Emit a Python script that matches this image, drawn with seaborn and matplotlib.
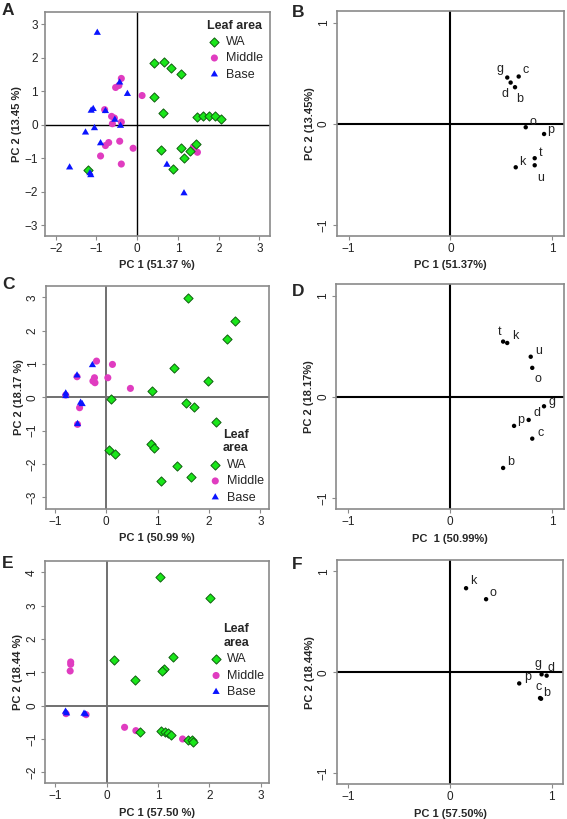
import numpy as np
import pandas as pd
import matplotlib
matplotlib.use("Agg")
import matplotlib.pyplot as plt
import seaborn as sns

# ---------------------------------------------------------------
# score data (PC1, PC2) per leaf area, one block per panel
# ---------------------------------------------------------------
a_wa_x = [0.41, 0.66, 0.82, 1.08, 0.41, 0.64, 1.46, 1.61, 1.76, 1.92, 2.07,
          0.58, 1.07, 1.15, 0.89, 1.29, 1.45, -1.20]
a_wa_y = [1.84, 1.88, 1.70, 1.50, 0.83, 0.35, 0.23, 0.25, 0.25, 0.25, 0.18,
          -0.75, -0.69, -1.00, -1.31, -0.77, -0.57, -1.34]
a_mid_x = [-0.39, -0.53, -0.45, 0.12, -0.80, -0.63, -0.56, -0.61, -0.39,
           -0.70, -0.78, -0.43, -0.10, -0.90, -0.39, 1.38, 1.48]
a_mid_y = [1.38, 1.11, 1.17, 0.87, 0.45, 0.25, 0.20, 0.03, 0.08,
           -0.53, -0.62, -0.49, -0.70, -0.93, -1.17, -0.66, -0.82]
a_base_x = [-0.98, -0.43, -0.24, -1.13, -1.08, -0.78, -0.55, -0.41, -1.05,
            -1.27, -0.90, -1.66, -1.16, -1.14, 0.73, 1.15]
a_base_y = [2.74, 1.26, 0.92, 0.42, 0.47, 0.41, 0.15, -0.03, -0.10,
            -0.23, -0.55, -1.27, -1.44, -1.50, -1.19, -2.04]

c_wa_x = [1.60, 2.50, 2.36, 1.32, 1.99, 0.90, 0.09, 1.56, 1.71, 2.14, 0.87,
          0.92, 0.06, 0.16, 1.37, 1.65, 1.07]
c_wa_y = [2.99, 2.29, 1.74, 0.87, 0.50, 0.19, -0.04, -0.16, -0.28, -0.75,
          -1.40, -1.51, -1.58, -1.71, -2.07, -2.40, -2.51]
c_mid_x = [-0.19, 0.12, -0.23, -0.26, -0.22, 0.03, 0.47, -0.57, -0.79, -0.52, -0.56]
c_mid_y = [1.09, 0.99, 0.59, 0.49, 0.44, 0.59, 0.27, 0.62, 0.07, -0.31, -0.81]
c_base_x = [-0.27, -0.57, -0.79, -0.79, -0.50, -0.47, -0.56]
c_base_y = [0.97, 0.66, 0.12, 0.04, -0.16, -0.20, -0.80]

e_wa_x = [1.04, 2.01, 0.15, 1.30, 1.11, 1.08, 0.56, 0.66, 1.06, 1.13, 1.19,
          1.25, 1.59, 1.66, 1.69]
e_wa_y = [3.87, 3.24, 1.37, 1.45, 1.09, 1.04, 0.78, -0.79, -0.76, -0.80,
          -0.83, -0.87, -1.04, -1.03, -1.10]
e_mid_x = [-0.70, -0.70, -0.71, -0.79, -0.40, 0.35, 0.57, 1.48]
e_mid_y = [1.31, 1.24, 1.04, -0.24, -0.27, -0.65, -0.75, -1.00]
e_base_x = [-0.80, -0.78, -0.44, -0.41]
e_base_y = [-0.18, -0.23, -0.24, -0.26]

# ---------------------------------------------------------------
# loading data (variable letters)
# ---------------------------------------------------------------
b_names = ['g', 'c', 'd', 'b', 'o', 'p', 't', 'u', 'k']
b_pc1 = [0.557, 0.669, 0.59, 0.633, 0.738, 0.918, 0.826, 0.826, 0.64]
b_pc2 = [0.46, 0.47, 0.41, 0.364, -0.033, -0.10, -0.34, -0.41, -0.43]

d_names = ['t', 'k', 'u', 'o', 'g', 'd', 'p', 'c', 'b']
d_pc1 = [0.52, 0.56, 0.79, 0.805, 0.92, 0.77, 0.627, 0.805, 0.52]
d_pc2 = [0.55, 0.536, 0.40, 0.29, -0.09, -0.225, -0.284, -0.41, -0.70]

f_names = ['k', 'o', 'g', 'd', 'p', 'c', 'b']
f_pc1 = [0.157, 0.354, 0.90, 0.95, 0.68, 0.885, 0.895]
f_pc2 = [0.834, 0.725, -0.02, -0.033, -0.11, -0.255, -0.262]

# label offsets in pixels (dx right, dy up)
b_offsets = [(-7, 9), (7, 7), (-6, -11), (5, -12), (7, 5), (7, 4), (6, 5), (6, -13), (7, 5)]
d_offsets = [(-4, 10), (8, 7), (8, 6), (6, -11), (8, 4), (8, 7), (7, 6), (8, 6), (8, 6)]
f_offsets = [(7, 7), (7, 6), (-4, 10), (4, 8), (8, 6), (-1, 11), (6, 6)]

groups = ['WA', 'Middle', 'Base']
colors = {'WA': '#19e619', 'Middle': '#e03cc0', 'Base': '#0a14ff'}
edges = {'WA': '#106010', 'Middle': 'none', 'Base': 'none'}
markers = {'WA': 'D', 'Middle': 'o', 'Base': (3, 1, 0)}
sizes = {'WA': 22, 'Middle': 26, 'Base': 36}
draw_order = ['Middle', 'WA', 'Base']

sns.set_style('ticks')
plt.rcParams['font.family'] = ['Liberation Sans', 'DejaVu Sans']

fig = plt.figure(figsize=(5.67, 8.19), dpi=100)

FRAME = '#8a8a8a'
PX = 0.72  # points per pixel


def style_axes(ax, xlim, ylim, xticks, yticks, zero_color, zero_lw, rot_y):
    ax.set_xlim(*xlim)
    ax.set_ylim(*ylim)
    ax.set_xticks(xticks)
    ax.set_yticks(yticks)
    ax.axhline(0, color=zero_color, lw=zero_lw, zorder=1)
    ax.axvline(0, color=zero_color, lw=zero_lw, zorder=1)
    for sp in ax.spines.values():
        sp.set_visible(True)
        sp.set_color(FRAME)
        sp.set_linewidth(1.2)
    ax.tick_params(length=3, width=0.8, color=FRAME, labelsize=8.5,
                   labelcolor='#222222', pad=2)
    if rot_y:
        for lab in ax.get_yticklabels():
            lab.set_rotation(90)
            lab.set_va('center')


def score_panel(rect, xs, ys, xlim, ylim, yticks, xlabel, ylabel,
                legend_title, legend_loc, legend_anchor, rot_y, zero_color, zero_lw):
    ax = fig.add_axes(rect)
    frames = []
    for g in groups:
        frames.append(pd.DataFrame({'pc1': xs[g], 'pc2': ys[g], 'area': g}))
    df = pd.concat(frames, ignore_index=True)
    for g in draw_order:
        sub = df[df['area'] == g]
        sns.scatterplot(data=sub, x='pc1', y='pc2', ax=ax, color=colors[g],
                        marker=markers[g], s=sizes[g], edgecolor=edges[g],
                        linewidth=0.7, label=g, zorder=3)
    style_axes(ax, xlim, ylim, list(range(int(np.ceil(xlim[0])), int(xlim[1]) + 1)),
               yticks, zero_color, zero_lw, rot_y)
    ax.set_xlabel(xlabel, fontsize=8, fontweight='bold', labelpad=4)
    ax.set_ylabel(ylabel, fontsize=8, fontweight='bold', labelpad=2)
    handles, labels = ax.get_legend_handles_labels()
    hmap = dict(zip(labels, handles))
    leg = ax.legend([hmap[g] for g in groups], groups, title=legend_title,
                    loc=legend_loc, bbox_to_anchor=legend_anchor, frameon=False,
                    fontsize=9, title_fontproperties={'weight': 'bold', 'size': 9},
                    handletextpad=0.3, labelspacing=0.35, handlelength=1.2,
                    borderaxespad=0.1, borderpad=0.3, alignment='center')
    leg.get_title().set_multialignment('center')
    return ax


def loading_panel(rect, names, pc1, pc2, offsets, xlabel, ylabel):
    ax = fig.add_axes(rect)
    df = pd.DataFrame({'pc1': pc1, 'pc2': pc2, 'var': names})
    sns.scatterplot(data=df, x='pc1', y='pc2', ax=ax, color='black', s=10,
                    edgecolor='none', zorder=3)
    for (name, x, y), (dx, dy) in zip(df[['var', 'pc1', 'pc2']].values, offsets):
        ax.annotate(name, (x, y), xytext=(dx * PX, dy * PX), textcoords='offset points',
                    ha='center', va='center', fontsize=9, color='#222222')
    style_axes(ax, (-1.115, 1.115), (-1.11, 1.115), [-1, 0, 1], [-1, 0, 1],
               'black', 1.5, True)
    ax.set_xlabel(xlabel, fontsize=8, fontweight='bold', labelpad=4)
    ax.set_ylabel(ylabel, fontsize=8, fontweight='bold', labelpad=2)
    return ax


# panel A
score_panel([0.079, 0.712, 0.397, 0.273],
            {'WA': a_wa_x, 'Middle': a_mid_x, 'Base': a_base_x},
            {'WA': a_wa_y, 'Middle': a_mid_y, 'Base': a_base_y},
            (-2.27, 3.26), (-3.31, 3.35), [-3, -2, -1, 0, 1, 2, 3],
            'PC 1 (51.37 %)', 'PC 2 (13.45 %)', 'Leaf area',
            'upper right', (0.99, 0.99), False, 'black', 1.0)

# panel B
loading_panel([0.594, 0.712, 0.401, 0.274], b_names, b_pc1, b_pc2, b_offsets,
              'PC 1 (51.37%)', 'PC 2 (13.45%)')

# panel C
score_panel([0.0806, 0.379, 0.393, 0.272],
            {'WA': c_wa_x, 'Middle': c_mid_x, 'Base': c_base_x},
            {'WA': c_wa_y, 'Middle': c_mid_y, 'Base': c_base_y},
            (-1.18, 3.16), (-3.34, 3.35), [-3, -2, -1, 0, 1, 2, 3],
            'PC 1 (50.99 %)', 'PC 2 (18.17 %)', 'Leaf\narea',
            'lower right', (1.0, 0.0), True, '#707070', 1.4)

# panel D
loading_panel([0.5926, 0.378, 0.402, 0.2747], d_names, d_pc1, d_pc2, d_offsets,
              'PC  1 (50.99%)', 'PC 2 (18.17%)')

# panel E
score_panel([0.0794, 0.0436, 0.3956, 0.2718],
            {'WA': e_wa_x, 'Middle': e_mid_x, 'Base': e_base_x},
            {'WA': e_wa_y, 'Middle': e_mid_y, 'Base': e_base_y},
            (-1.20, 3.17), (-2.33, 4.35), [-2, -1, 0, 1, 2, 3, 4],
            'PC 1 (57.50 %)', 'PC 2 (18.44 %)', 'Leaf\narea',
            'lower right', (1.0, 0.36), True, '#707070', 1.4)

# panel F
loading_panel([0.594, 0.0424, 0.3997, 0.274], f_names, f_pc1, f_pc2, f_offsets,
              'PC 1 (57.50%)', 'PC 2 (18.44%)')

# panel letters
for letter, (px, py) in zip('ABCDEF', [(2, 3), (292, 5), (2, 277), (292, 284), (2, 556), (292, 557)]):
    fig.text(px / 567, 1 - py / 819, letter, fontsize=12.5, fontweight='bold',
             ha='left', va='top')

fig.savefig('out.png', dpi=100)
